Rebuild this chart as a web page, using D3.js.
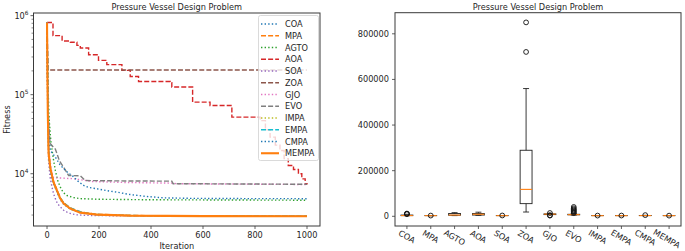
<!DOCTYPE html>
<html>
<head>
<meta charset="utf-8">
<script src="https://cdn.jsdelivr.net/npm/d3@7"></script>
<style>
  body { margin: 0; background: #fff; }
  svg { display: block; font-family: "DejaVu Sans", sans-serif; }
</style>
</head>
<body>
<div id="chart"></div>
<script>
// ---- data ----
var algos = ["COA", "MPA", "AGTO", "AOA", "SOA", "ZOA", "GJO", "EVO", "IMPA", "EMPA", "CMPA", "MEMPA"];
var colors = ["#1f77b4", "#ff7f0e", "#2ca02c", "#d62728", "#9467bd", "#8c564b", "#e377c2", "#7f7f7f", "#bcbd22", "#17becf", "#1f77b4", "#ff7f0e"];
var styles = ["dot", "dash", "dot", "dash", "dot", "dash", "dot", "dash", "dot", "dash", "dot", "solid"];

// convergence curves: [iteration, best fitness]
var coaCurve  = [[0,820000],[2,180000],[4,40000],[8,15000],[15,9500],[25,7500],[38,5900],[51,4700],[64,4100],[89,3580],[128,3200],[192,3030],[320,2948],[1000,2892]];
var mpaCurve  = [[0,820000],[1,350000],[3,70000],[6,20000],[13,12000],[25,8000],[38,6300],[51,5000],[64,4300],[89,3700],[128,3280],[192,3070],[320,2960],[600,2920],[1000,2900]];
var agtoCurve = [[0,820000],[3,150000],[8,50000],[15,25000],[25,15000],[32,11000],[42,8000],[51,6800],[62,5800],[77,5300],[100,5000],[128,4840],[200,4750],[400,4680],[1000,4620]];
var aoaCurve  = [[0,820000],[23,558000],[58,478000],[90,460000],[115,420000],[128,389000],[160,320000],[198,272000],[230,240000],[288,203000],[320,170000],[352,147000],[474,142000],[480,125000],[560,80500],[627,73000],[711,52000],[820,47000],[840,36000],[858,29000],[878,23000],[896,19700],[912,15500],[928,12700],[948,11300],[967,10000],[980,8600],[993,7470],[1000,7300]];
var soaCurve  = [[0,820000],[2,100000],[4,30000],[6,14700],[12,9000],[19,6800],[25,5600],[32,4840],[40,4200],[51,3800],[64,3450],[77,3260],[95,3100],[115,3020],[150,2970],[250,2940],[1000,2910]];
var zoaCurve  = [[0,820000],[2,400000],[4,205000],[1000,205000]];
var gjoCurve  = [[0,820000],[2,150000],[5,40000],[10,16000],[18,10500],[25,8900],[60,8800],[100,8650],[140,8300],[170,7980],[300,7750],[480,7600],[500,7470],[1000,7300]];
var evoCurve  = [[0,820000],[2,200000],[5,60000],[10,28000],[13,24000],[25,21500],[32,20500],[45,15500],[51,14000],[64,12100],[83,9500],[128,9400],[147,8200],[300,8100],[480,8050],[485,7480],[1000,7350]];
var impaCurve = [[0,820000],[1,280000],[3,55000],[6,18500],[13,11300],[25,7900],[38,6200],[51,4870],[64,4220],[89,3640],[128,3230],[192,3045],[320,2952],[1000,2892]];
var empaCurve = [[0,820000],[2,250000],[4,50000],[7,17000],[13,11000],[25,7700],[38,6100],[51,4900],[64,4250],[89,3700],[128,3300],[160,3130],[192,3050],[320,2955],[1000,2895]];
var cmpaCurve = [[0,820000],[2,150000],[5,45000],[9,25000],[13,19700],[32,16200],[50,13000],[64,11600],[80,10300],[96,9500],[120,8000],[141,7100],[160,6700],[192,6450],[230,6100],[269,5840],[320,5450],[384,5150],[450,4950],[550,4880],[700,4850],[1000,4830]];
var mempaCurve = [[0,820000],[1,300000],[3,60000],[6,17900],[13,11600],[25,7830],[38,6150],[51,4840],[64,4190],[89,3620],[128,3220],[192,3040],[320,2950],[600,2910],[1000,2890]];
var curves = [coaCurve, mpaCurve, agtoCurve, aoaCurve, soaCurve, zoaCurve, gjoCurve, evoCurve, impaCurve, empaCurve, cmpaCurve, mempaCurve];

var xTicks = [0, 200, 400, 600, 800, 1000];
var yDecades = [4, 5, 6];

// box plot statistics per algorithm
var whiskLo = [2890, 2885, 3100, 4000, 2900, 18800, 7300, 5000, 2880, 2885, 2900, 2880];
var q1      = [2950, 2886, 4600, 5500, 2920, 55500, 7400, 6500, 2885, 2890, 3050, 2884];
var median  = [3300, 2888, 5500, 9000, 2950, 118000, 9500, 7400, 2890, 2895, 3300, 2886];
var q3      = [5500, 2892, 12500, 12000, 3000, 289500, 10500, 8800, 2900, 2905, 3600, 2888];
var whiskHi = [9000, 2900, 16000, 18000, 3080, 560000, 13000, 11500, 2915, 2920, 4300, 2892];
var fliers  = [[9800, 10500, 12000], [3200], [], [], [3600], [720500, 850000], [3000, 4500, 14500],
               [14000, 18000, 22000, 26000, 30000, 35000, 41000], [3150], [3300], [5200], [2950]];
var boxTicks = [0, 200000, 400000, 600000, 800000];

var W = 685, H = 251;
var title = "Pressure Vessel Design Problem";
var fs = 8.2, ink = "#262626", spine = "#3a3a3a";

var svg = d3.select("#chart").append("svg").attr("width", W).attr("height", H);

/* ---------- left: convergence plot ---------- */
var L = {x0: 33.5, x1: 320, y0: 13, y1: 226};
var x = d3.scaleLinear().domain([-52, 1050]).range([L.x0, L.x1]);
var y = d3.scaleLog().domain([2180, 1.08e6]).range([L.y1, L.y0]);

var left = svg.append("g");
left.append("clipPath").attr("id", "clipL").append("rect")
  .attr("x", L.x0).attr("y", L.y0).attr("width", L.x1 - L.x0).attr("height", L.y1 - L.y0);

var dashFor = function(s) {
  if (s == "dot") return "1.4,2.2";
  if (s == "dash") return "5,2.1";
  return null;
};

var line = d3.line().x(function(d) { return x(d[0]); }).y(function(d) { return y(d[1]); });
var stepLine = d3.line().curve(d3.curveStepAfter)
  .x(function(d) { return x(d[0]); }).y(function(d) { return y(d[1]); });

var plot = left.append("g").attr("clip-path", "url(#clipL)");
curves.forEach(function(c, i) {
  plot.append("path")
    .attr("d", (algos[i] == "AOA") ? stepLine(c) : line(c))
    .attr("fill", "none")
    .attr("stroke", colors[i])
    .attr("stroke-width", algos[i] == "MEMPA" ? 2.1 : 1.4)
    .attr("stroke-dasharray", dashFor(styles[i]));
});

left.append("rect").attr("x", L.x0).attr("y", L.y0)
  .attr("width", L.x1 - L.x0).attr("height", L.y1 - L.y0)
  .attr("fill", "none").attr("stroke", spine).attr("stroke-width", 1);

// x axis
xTicks.forEach(function(t) {
  left.append("line").attr("x1", x(t)).attr("x2", x(t)).attr("y1", L.y1).attr("y2", L.y1 + 3)
    .attr("stroke", spine).attr("stroke-width", 0.8);
  left.append("text").attr("x", x(t)).attr("y", L.y1 + 12).attr("text-anchor", "middle")
    .attr("font-size", fs).attr("fill", ink).text(t);
});
left.append("text").attr("x", (L.x0 + L.x1) / 2).attr("y", 248.5).attr("text-anchor", "middle")
  .attr("font-size", fs).attr("fill", ink).text("Iteration");

// y axis (log)
var minor = [];
[3, 4, 5].forEach(function(e) {
  for (var k = 2; k <= 9; k++) {
    var v = k * Math.pow(10, e);
    if (v >= y.domain()[0] && v <= y.domain()[1]) minor.push(v);
  }
});
minor.forEach(function(v) {
  left.append("line").attr("x1", L.x0 - 2).attr("x2", L.x0).attr("y1", y(v)).attr("y2", y(v))
    .attr("stroke", spine).attr("stroke-width", 0.6);
});
yDecades.forEach(function(e) {
  var v = Math.pow(10, e);
  left.append("line").attr("x1", L.x0 - 3).attr("x2", L.x0).attr("y1", y(v)).attr("y2", y(v))
    .attr("stroke", spine).attr("stroke-width", 0.8);
  var t = left.append("text").attr("x", L.x0 - 5).attr("y", y(v) + 3).attr("text-anchor", "end")
    .attr("font-size", fs).attr("fill", ink);
  t.append("tspan").text("10");
  t.append("tspan").attr("font-size", 5.8).attr("dy", -3.5).text(e);
});
left.append("text").attr("transform", "translate(10," + ((L.y0 + L.y1) / 2) + ") rotate(-90)")
  .attr("text-anchor", "middle").attr("font-size", fs).attr("fill", ink).text("Fitness");

left.append("text").attr("x", (L.x0 + L.x1) / 2).attr("y", 9.5).attr("text-anchor", "middle")
  .attr("font-size", fs).attr("fill", ink).text(title);

// legend
var lg = left.append("g");
lg.append("rect").attr("x", 258.5).attr("y", 15.5).attr("width", 60).attr("height", 145)
  .attr("rx", 2).attr("fill", "#fff").attr("fill-opacity", 0.8)
  .attr("stroke", "#d0d0d0").attr("stroke-width", 0.8);
algos.forEach(function(a, i) {
  var cy = 24 + i * 11.75;
  lg.append("line").attr("x1", 261).attr("x2", 279).attr("y1", cy).attr("y2", cy)
    .attr("stroke", colors[i]).attr("stroke-width", a == "MEMPA" ? 2.1 : 1.4)
    .attr("stroke-dasharray", dashFor(styles[i]));
  lg.append("text").attr("x", 285).attr("y", cy + 3).attr("font-size", fs).attr("fill", ink).text(a);
});

/* ---------- right: box plot ---------- */
var R = {x0: 395, x1: 681, y0: 12.7, y1: 226};
var bx = d3.scaleLinear().domain([0.5, 12.5]).range([R.x0, R.x1]);
var by = d3.scaleLinear().domain([-42500, 892500]).range([R.y1, R.y0]);
var right = svg.append("g");
var bw = bx(1.25) - bx(1);   // half box width
var cw = bw / 2;             // half cap width

algos.forEach(function(a, i) {
  var cx = bx(i + 1);
  var g = right.append("g");
  g.append("line").attr("x1", cx).attr("x2", cx).attr("y1", by(whiskLo[i])).attr("y2", by(q1[i]))
    .attr("stroke", "#222").attr("stroke-width", 0.9);
  g.append("line").attr("x1", cx).attr("x2", cx).attr("y1", by(q3[i])).attr("y2", by(whiskHi[i]))
    .attr("stroke", "#222").attr("stroke-width", 0.9);
  [whiskLo[i], whiskHi[i]].forEach(function(v) {
    g.append("line").attr("x1", cx - cw).attr("x2", cx + cw).attr("y1", by(v)).attr("y2", by(v))
      .attr("stroke", "#222").attr("stroke-width", 0.9);
  });
  g.append("rect").attr("x", cx - bw).attr("y", by(q3[i])).attr("width", 2 * bw)
    .attr("height", Math.max(0, by(q1[i]) - by(q3[i])))
    .attr("fill", "none").attr("stroke", "#222").attr("stroke-width", 0.9);
  g.append("line").attr("x1", cx - bw).attr("x2", cx + bw).attr("y1", by(median[i])).attr("y2", by(median[i]))
    .attr("stroke", "#ff7f0e").attr("stroke-width", 1.1);
  fliers[i].forEach(function(v) {
    g.append("circle").attr("cx", cx).attr("cy", by(v)).attr("r", 2.4)
      .attr("fill", "none").attr("stroke", "#111").attr("stroke-width", 0.9);
  });
});

right.append("rect").attr("x", R.x0).attr("y", R.y0)
  .attr("width", R.x1 - R.x0).attr("height", R.y1 - R.y0)
  .attr("fill", "none").attr("stroke", spine).attr("stroke-width", 1);

boxTicks.forEach(function(t) {
  right.append("line").attr("x1", R.x0 - 3).attr("x2", R.x0).attr("y1", by(t)).attr("y2", by(t))
    .attr("stroke", spine).attr("stroke-width", 0.8);
  right.append("text").attr("x", R.x0 - 6).attr("y", by(t) + 3).attr("text-anchor", "end")
    .attr("font-size", fs).attr("fill", ink).text(t);
});

algos.forEach(function(a, i) {
  var cx = bx(i + 1);
  right.append("line").attr("x1", cx).attr("x2", cx).attr("y1", R.y1).attr("y2", R.y1 + 3)
    .attr("stroke", spine).attr("stroke-width", 0.8);
  var t = right.append("text").attr("font-size", fs).attr("fill", ink)
    .attr("text-anchor", "middle").attr("dominant-baseline", "central").text(a);
  var w = t.node().getComputedTextLength();
  var cy = R.y1 + 7.3 + w * 0.18;
  var halfX = (w * 0.866 + 10 * 0.5) / 2;   // half of rotated box width
  t.attr("transform", "translate(" + Math.min(cx, W - 3 - halfX) + "," + cy + ") rotate(30)");
});

right.append("text").attr("x", (R.x0 + R.x1) / 2).attr("y", 9.5).attr("text-anchor", "middle")
  .attr("font-size", fs).attr("fill", ink).text(title);
</script>
</body>
</html>
